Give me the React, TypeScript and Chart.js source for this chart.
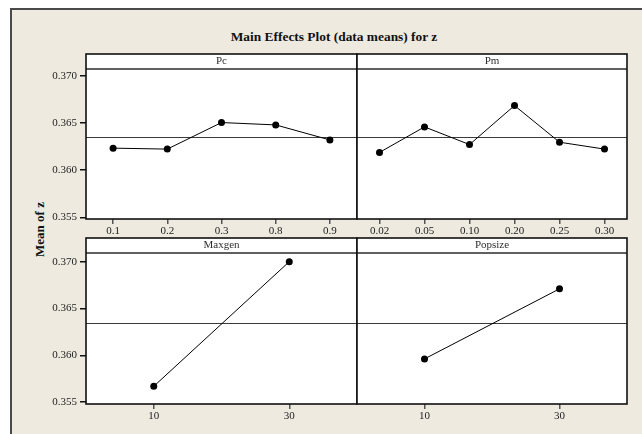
import React, { useEffect, useRef } from "react";
import { Chart, registerables } from "chart.js";

Chart.register(...registerables);

// ---- Data ----
const PC_LEVELS = ["0.1", "0.2", "0.3", "0.8", "0.9"];
const PC_MEANS = [0.36233, 0.36223, 0.36504, 0.36479, 0.3632];

const PM_LEVELS = ["0.02", "0.05", "0.10", "0.20", "0.25", "0.30"];
const PM_MEANS = [0.36188, 0.36458, 0.36271, 0.36684, 0.36296, 0.36223];

const MAXGEN_LEVELS = ["10", "30"];
const MAXGEN_MEANS = [0.35668, 0.37];

const POPSIZE_LEVELS = ["10", "30"];
const POPSIZE_MEANS = [0.35961, 0.3671];

const GRAND_MEAN = 0.3635;

const TOP_ROW_RANGE = [0.35483, 0.37071];
const BOTTOM_ROW_RANGE = [0.35479, 0.37093];
const Y_STEP = 0.005;

const TITLE = "Main Effects Plot (data means) for z";
const Y_LABEL = "Mean of z";

// ---- Layout ----
const STRIP = 15;
const AXIS_LEFT = 20;
const X_AXIS_H = 26;
const SERIF = "'Liberation Serif', 'Times New Roman', serif";

type PanelSpec = {
  name: string;
  labels: string[];
  values: number[];
  range: number[];
  L: number;
  T: number;
  R: number;
  B: number;
  showY: boolean;
};

const PANELS: PanelSpec[] = [
  { name: "Pc", labels: PC_LEVELS, values: PC_MEANS, range: TOP_ROW_RANGE, L: 86, T: 69, R: 357, B: 219, showY: true },
  { name: "Pm", labels: PM_LEVELS, values: PM_MEANS, range: TOP_ROW_RANGE, L: 357, T: 69, R: 627, B: 219, showY: false },
  { name: "Maxgen", labels: MAXGEN_LEVELS, values: MAXGEN_MEANS, range: BOTTOM_ROW_RANGE, L: 86, T: 253, R: 357, B: 404, showY: true },
  { name: "Popsize", labels: POPSIZE_LEVELS, values: POPSIZE_MEANS, range: BOTTOM_ROW_RANGE, L: 357, T: 253, R: 627, B: 404, showY: false },
];

const panelDecor = {
  id: "panelDecor",
  beforeDraw(chart: any) {
    const { ctx, chartArea: a } = chart;
    ctx.save();
    ctx.fillStyle = "#ffffff";
    ctx.fillRect(a.left, a.top - STRIP, a.right - a.left, a.bottom - a.top + STRIP);
    ctx.restore();
  },
  beforeDatasetsDraw(chart: any, _args: any, opts: any) {
    const { ctx, chartArea: a } = chart;
    const y = Math.round(chart.scales.y.getPixelForValue(opts.grand)) + 0.5;
    ctx.save();
    ctx.strokeStyle = "#3a3a3a";
    ctx.lineWidth = 1;
    ctx.beginPath();
    ctx.moveTo(a.left, y);
    ctx.lineTo(a.right, y);
    ctx.stroke();
    ctx.restore();
  },
  afterDraw(chart: any) {
    const { ctx, chartArea: a } = chart;
    ctx.save();
    ctx.strokeStyle = "#606060";
    ctx.lineWidth = 2;
    ctx.beginPath();
    ctx.moveTo(a.left, a.top);
    ctx.lineTo(a.right, a.top);
    ctx.stroke();
    ctx.strokeStyle = "#111111";
    ctx.lineWidth = 1.6;
    ctx.strokeRect(a.left, a.top - STRIP, a.right - a.left, a.bottom - a.top + STRIP);
    ctx.restore();
  },
};

function Panel({ spec }: { spec: PanelSpec }) {
  const ref = useRef<HTMLCanvasElement>(null);
  const canvasLeft = spec.showY ? AXIS_LEFT : spec.L - 4;
  const canvasTop = spec.T - STRIP - 4;
  const canvasRight = spec.R + 4;
  const canvasBottom = spec.B + X_AXIS_H;
  const w = canvasRight - canvasLeft;
  const h = canvasBottom - canvasTop;

  useEffect(() => {
    if (!ref.current) return;
    const tickFont = { family: SERIF, size: 11 };
    const chart = new Chart(ref.current, {
      type: "line",
      data: {
        labels: spec.labels,
        datasets: [
          {
            data: spec.values,
            borderColor: "#000000",
            borderWidth: 1,
            pointRadius: 3.5,
            pointHoverRadius: 3.5,
            pointBackgroundColor: "#000000",
            pointBorderWidth: 0,
            tension: 0,
            clip: false as any,
          },
        ],
      },
      options: {
        responsive: false,
        animation: false,
        events: [],
        layout: { padding: { top: 4, right: 4, left: spec.showY ? 0 : 4, bottom: 0 } },
        plugins: {
          legend: { display: false },
          tooltip: { enabled: false },
          title: {
            display: true,
            text: spec.name,
            fullSize: false,
            color: "#2e2e2e",
            font: { family: SERIF, size: 11, weight: "normal", lineHeight: 1.1 },
            padding: { top: 1.4, bottom: 1.5 },
          },
          panelDecor: { grand: GRAND_MEAN },
        } as any,
        scales: {
          x: {
            type: "category",
            offset: true,
            grid: {
              display: true,
              offset: false,
              drawOnChartArea: false,
              drawTicks: true,
              tickLength: 5,
              color: "#555555",
              lineWidth: 1.5,
            },
            border: { display: false },
            ticks: { font: tickFont, color: "#222222", padding: 1, maxRotation: 0, autoSkip: false },
            afterFit: (s: any) => {
              s.height = X_AXIS_H;
            },
          },
          y: {
            type: "linear",
            display: spec.showY,
            min: spec.range[0],
            max: spec.range[1],
            grid: {
              drawOnChartArea: false,
              drawTicks: true,
              tickLength: 6,
              color: "#111111",
              lineWidth: 1.5,
            },
            border: { display: false },
            ticks: {
              stepSize: Y_STEP,
              includeBounds: false,
              font: tickFont,
              color: "#222222",
              padding: 3,
              callback: (v: any) => Number(v).toFixed(3),
            },
            afterFit: (s: any) => {
              s.width = spec.showY ? spec.L - AXIS_LEFT : 0;
            },
          },
        },
      },
      plugins: [panelDecor as any],
    });
    return () => chart.destroy();
  }, []);

  return (
    <canvas
      ref={ref}
      width={w}
      height={h}
      style={{ position: "absolute", left: canvasLeft, top: canvasTop, width: w, height: h }}
    />
  );
}

export default function App() {
  return (
    <div
      style={{
        position: "fixed",
        left: 0,
        top: 0,
        width: 642,
        height: 434,
        background: "#ffffff",
        overflow: "hidden",
      }}
    >
      <div
        style={{
          position: "absolute",
          left: 10,
          top: 8,
          width: 640,
          height: 430,
          background: "#eeeae0",
          borderLeft: "2px solid #4a4a4a",
          borderTop: "2px solid #4a4a4a",
        }}
      />
      <div
        style={{
          position: "absolute",
          left: 0,
          top: 29,
          width: 668,
          height: 15,
          lineHeight: "15px",
          textAlign: "center",
          fontFamily: SERIF,
          fontWeight: "bold",
          fontSize: 13.4,
          color: "#111111",
          whiteSpace: "nowrap",
        }}
      >
        {TITLE}
      </div>
      <div
        style={{
          position: "absolute",
          left: 38.5 - 60,
          top: 229 - 7.5,
          width: 120,
          height: 15,
          lineHeight: "15px",
          textAlign: "center",
          fontFamily: SERIF,
          fontWeight: "bold",
          fontSize: 13,
          color: "#111111",
          transform: "rotate(-90deg)",
          whiteSpace: "nowrap",
        }}
      >
        {Y_LABEL}
      </div>
      {PANELS.map((p) => (
        <Panel key={p.name} spec={p} />
      ))}
    </div>
  );
}
